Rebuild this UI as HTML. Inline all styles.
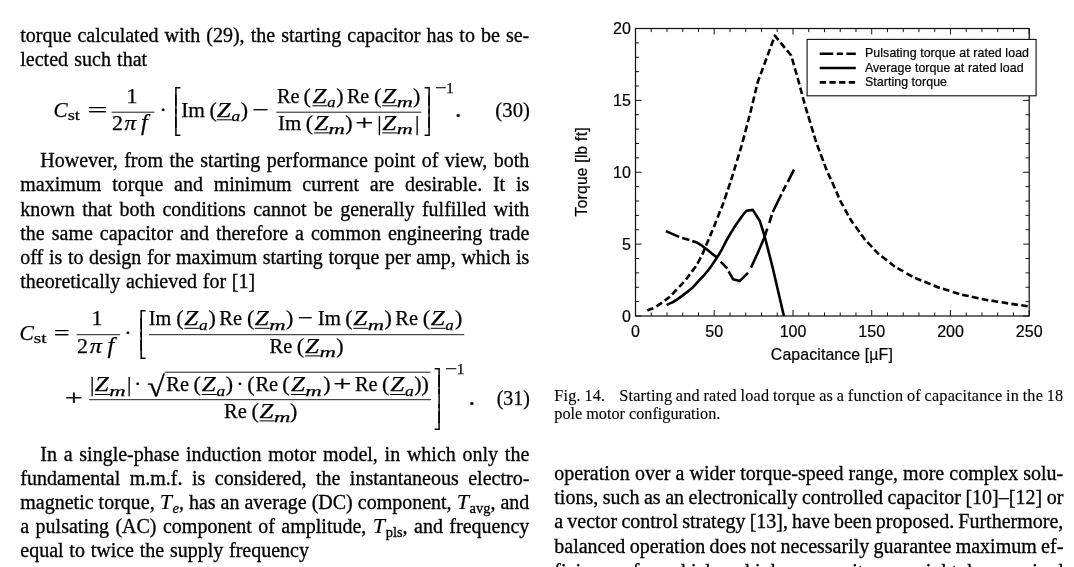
<!DOCTYPE html>
<html><head><meta charset="utf-8"><title>Fig. 14</title>
<style>
html,body{margin:0;padding:0;background:#fff;}
#pg{position:relative;width:1074px;height:567px;overflow:hidden;background:#fff;color:#000;
 font-family:"Liberation Serif",serif;}
.b{-webkit-text-stroke:0.3px #000;}
.c{-webkit-text-stroke:0.12px #000;}
.b{position:absolute;font-size:20.0px;line-height:24px;white-space:nowrap;}
.c{position:absolute;font-size:16.2px;line-height:18px;white-space:nowrap;}
.mi{font-style:italic;font-size:22px;letter-spacing:0.6px;-webkit-text-stroke:0.15px #000;}
.gp{display:inline-block;width:3px;}
.ms{font-size:14.5px;vertical-align:-4px;line-height:0;}
svg{position:absolute;left:0;top:0;}
svg text{font-family:"Liberation Serif",serif;fill:#000;}
svg text.i{font-style:italic;}
svg text.s{font-family:"Liberation Sans",sans-serif;}
svg text.d{font-family:"DejaVu Sans",sans-serif;}
svg text.r,svg text.i{stroke:#000;stroke-width:0.25px;}
svg text.s{stroke:#000;stroke-width:0.2px;}
</style></head><body>
<div id="pg">
<div id="l0" class="b" style="left:20.3px;top:22.95px;word-spacing:1.084px;">torque calculated with (29), the starting capacitor has to be se-</div>
<div id="l1" class="b" style="left:20.3px;top:47.05px;word-spacing:1.197px;">lected such that</div>
<div id="l2" class="b" style="left:40.3px;top:148.05px;word-spacing:1.404px;">However, from the starting performance point of view, both</div>
<div id="l3" class="b" style="left:20.3px;top:172.35px;word-spacing:5.793px;">maximum torque and minimum current are desirable. It is</div>
<div id="l4" class="b" style="left:20.3px;top:196.65px;word-spacing:2.387px;">known that both conditions cannot be generally fulfilled with</div>
<div id="l5" class="b" style="left:20.3px;top:220.85px;word-spacing:1.986px;">the same capacitor and therefore a common engineering trade</div>
<div id="l6" class="b" style="left:20.3px;top:245.15px;word-spacing:0.656px;">off is to design for maximum starting torque per amp, which is</div>
<div id="l7" class="b" style="left:20.3px;top:269.45px;word-spacing:0.715px;">theoretically achieved for [1]</div>
<div id="l8" class="b" style="left:40.3px;top:441.95px;word-spacing:1.750px;">In a single-phase induction motor model, in which only the</div>
<div id="l9" class="b" style="left:20.3px;top:465.95px;word-spacing:4.487px;">fundamental m.m.f. is considered, the instantaneous electro-</div>
<div id="l10" class="b" style="left:20.3px;top:490.05px;word-spacing:-0.005px;">magnetic torque, <span class="mi">T</span><sub class="ms"><i>e</i></sub>, has an average (DC) component, <span class="mi">T</span><sub class="ms">avg</sub>, and</div>
<div id="l11" class="b" style="left:20.3px;top:514.05px;word-spacing:1.447px;">a pulsating (AC) component of amplitude, <span class="mi">T</span><sub class="ms">pls</sub>, and frequency</div>
<div id="l12" class="b" style="left:20.3px;top:538.05px;word-spacing:0.759px;">equal to twice the supply frequency</div>
<div id="l13" class="c" style="left:554.3px;top:386.63px;word-spacing:-0.561px;letter-spacing:0.2px;">Fig. 14.<span class="gp"></span>&nbsp;&nbsp; Starting and rated load torque as a function of capacitance in the 18</div>
<div id="l14" class="c" style="left:554.3px;top:404.53px;word-spacing:0.055px;">pole motor configuration.</div>
<div id="l15" class="b" style="left:554.3px;top:460.75px;word-spacing:0.105px;">operation over a wider torque-speed range, more complex solu-</div>
<div id="l16" class="b" style="left:554.3px;top:485.05px;word-spacing:-0.449px;">tions, such as an electronically controlled capacitor [10]–[12] or</div>
<div id="l17" class="b" style="left:554.3px;top:509.35px;word-spacing:-0.867px;">a vector control strategy [13], have been proposed. Furthermore,</div>
<div id="l18" class="b" style="left:554.3px;top:533.65px;word-spacing:-0.670px;">balanced operation does not necessarily guarantee maximum ef-</div>
<div id="l19" class="b" style="left:554.3px;top:559.05px;word-spacing:5.412px;">ficiency, for which a higher capacitance might be required</div>
<svg width="1074" height="567" viewBox="0 0 1074 567">
<text x="53.43" y="116.7" font-size="22.0" class="i" textLength="14.08" lengthAdjust="spacingAndGlyphs">C</text>
<text x="67.65" y="119.8" font-size="15.5" class="r" textLength="12.15" lengthAdjust="spacingAndGlyphs">st</text>
<text x="87.19" y="116.7" font-size="22.0" class="r" textLength="20.48" lengthAdjust="spacingAndGlyphs">=</text>
<line x1="111.6" y1="112.2" x2="154.4" y2="112.2" stroke="#000" stroke-width="0.9" />
<text x="126.57" y="102.5" font-size="22.0" class="r" >1</text>
<text x="111.93" y="129.8" font-size="22.0" class="r" >2</text>
<text x="124.57" y="129.8" font-size="22.0" class="i" textLength="11.69" lengthAdjust="spacingAndGlyphs">π</text>
<text x="141.03" y="129.8" font-size="24" class="i" >f</text>
<text x="159.54" y="116.7" font-size="22.0" class="r" >·</text>
<text x="173.82" y="101.95" font-size="16.0" class="d">⎡</text>
<text x="173.82" y="131.86" font-size="16.0" class="d">⎣</text>
<text x="173.82" y="109.54" font-size="16.0" class="d">⎢</text>
<text x="173.82" y="124.29" font-size="16.0" class="d">⎢</text>
<text x="181.23" y="116.7" font-size="22.0" class="r" textLength="23.81" lengthAdjust="spacingAndGlyphs">Im</text>
<text x="209.53" y="116.7" font-size="22.0" class="r" >(</text>
<text x="216.89" y="116.7" font-size="22.0" class="i" textLength="13.90" lengthAdjust="spacingAndGlyphs">Z</text>
<line x1="216.79999999999998" y1="119.8" x2="231.79999999999998" y2="119.8" stroke="#000" stroke-width="1.0" />
<text x="231.58" y="121.0" font-size="15.5" class="i" textLength="8.67" lengthAdjust="spacingAndGlyphs">a</text>
<text x="240.79" y="116.7" font-size="22.0" class="r" >)</text>
<text x="252.22" y="116.7" font-size="22.0" class="r" textLength="16.73" lengthAdjust="spacingAndGlyphs">−</text>
<text x="277.01" y="102.7" font-size="22.0" class="r" textLength="22.59" lengthAdjust="spacingAndGlyphs">Re</text>
<text x="303.53" y="102.7" font-size="22.0" class="r" >(</text>
<text x="312.49" y="102.7" font-size="22.0" class="i" textLength="13.90" lengthAdjust="spacingAndGlyphs">Z</text>
<line x1="312.40000000000003" y1="105.8" x2="327.40000000000003" y2="105.8" stroke="#000" stroke-width="1.0" />
<text x="327.2" y="107.0" font-size="15.5" class="i" textLength="8.32" lengthAdjust="spacingAndGlyphs">a</text>
<text x="336.29" y="102.7" font-size="22.0" class="r" >)</text>
<text x="346.92" y="102.7" font-size="22.0" class="r" textLength="22.38" lengthAdjust="spacingAndGlyphs">Re</text>
<text x="374.03" y="102.7" font-size="22.0" class="r" >(</text>
<text x="382.29" y="102.7" font-size="22.0" class="i" textLength="13.90" lengthAdjust="spacingAndGlyphs">Z</text>
<line x1="382.20000000000005" y1="105.8" x2="397.20000000000005" y2="105.8" stroke="#000" stroke-width="1.0" />
<text x="396.7" y="107.0" font-size="15.5" class="i" textLength="16.03" lengthAdjust="spacingAndGlyphs">m</text>
<text x="413.09" y="102.7" font-size="22.0" class="r" >)</text>
<line x1="276.3" y1="112.2" x2="421.4" y2="112.2" stroke="#000" stroke-width="0.9" />
<text x="278.05" y="129.8" font-size="22.0" class="r" textLength="23.18" lengthAdjust="spacingAndGlyphs">Im</text>
<text x="305.63" y="129.8" font-size="22.0" class="r" >(</text>
<text x="314.19" y="129.8" font-size="22.0" class="i" textLength="13.90" lengthAdjust="spacingAndGlyphs">Z</text>
<line x1="314.1" y1="132.9" x2="329.1" y2="132.9" stroke="#000" stroke-width="1.0" />
<text x="328.58" y="134.10000000000002" font-size="15.5" class="i" textLength="16.37" lengthAdjust="spacingAndGlyphs">m</text>
<text x="345.19" y="129.8" font-size="22.0" class="r" >)</text>
<text x="355.19" y="129.8" font-size="22.0" class="r" textLength="18.18" lengthAdjust="spacingAndGlyphs">+</text>
<text x="377.3" y="129.8" font-size="22.0" class="r" >|</text>
<text x="382.29" y="129.8" font-size="22.0" class="i" textLength="13.90" lengthAdjust="spacingAndGlyphs">Z</text>
<line x1="382.20000000000005" y1="132.9" x2="397.20000000000005" y2="132.9" stroke="#000" stroke-width="1.0" />
<text x="396.7" y="134.10000000000002" font-size="15.5" class="i" textLength="16.03" lengthAdjust="spacingAndGlyphs">m</text>
<text x="415.0" y="129.8" font-size="22.0" class="r" >|</text>
<text x="423.18" y="101.95" font-size="16.0" class="d">⎤</text>
<text x="423.18" y="131.86" font-size="16.0" class="d">⎦</text>
<text x="423.18" y="109.54" font-size="16.0" class="d">⎥</text>
<text x="423.18" y="124.29" font-size="16.0" class="d">⎥</text>
<text x="434.98" y="93.1" font-size="15.5" class="r" textLength="11.51" lengthAdjust="spacingAndGlyphs">−</text>
<text x="445.94" y="93.1" font-size="15.5" class="r" >1</text>
<text x="454.93" y="116.7" font-size="26" class="r" textLength="6.35" lengthAdjust="spacingAndGlyphs">.</text>
<text x="495.39" y="116.5" font-size="20.2" class="r" textLength="34.52" lengthAdjust="spacingAndGlyphs">(30)</text>
<text x="19.41" y="339.7" font-size="22.0" class="i" textLength="14.29" lengthAdjust="spacingAndGlyphs">C</text>
<text x="33.81" y="342.8" font-size="15.5" class="r" textLength="12.80" lengthAdjust="spacingAndGlyphs">st</text>
<text x="53.8" y="339.7" font-size="22.0" class="r" textLength="15.88" lengthAdjust="spacingAndGlyphs">=</text>
<line x1="76.6" y1="334.7" x2="120.1" y2="334.7" stroke="#000" stroke-width="0.9" />
<text x="91.57" y="325.2" font-size="22.0" class="r" >1</text>
<text x="76.93" y="352.8" font-size="22.0" class="r" >2</text>
<text x="89.77" y="352.8" font-size="22.0" class="i" textLength="12.17" lengthAdjust="spacingAndGlyphs">π</text>
<text x="107.43" y="352.8" font-size="24" class="i" >f</text>
<text x="124.34" y="339.7" font-size="22.0" class="r" >·</text>
<text x="139.03" y="324.95" font-size="16.0" class="d">⎡</text>
<text x="139.03" y="354.76" font-size="16.0" class="d">⎣</text>
<text x="139.03" y="332.52" font-size="16.0" class="d">⎢</text>
<text x="139.03" y="347.22" font-size="16.0" class="d">⎢</text>
<text x="148.77" y="325.2" font-size="22.0" class="r" textLength="22.45" lengthAdjust="spacingAndGlyphs">Im</text>
<text x="176.23" y="325.2" font-size="22.0" class="r" >(</text>
<text x="184.39" y="325.2" font-size="22.0" class="i" textLength="13.90" lengthAdjust="spacingAndGlyphs">Z</text>
<line x1="184.29999999999998" y1="328.3" x2="199.29999999999998" y2="328.3" stroke="#000" stroke-width="1.0" />
<text x="199.08" y="329.5" font-size="15.5" class="i" textLength="8.67" lengthAdjust="spacingAndGlyphs">a</text>
<text x="208.49" y="325.2" font-size="22.0" class="r" >)</text>
<text x="219.31" y="325.2" font-size="22.0" class="r" textLength="22.70" lengthAdjust="spacingAndGlyphs">Re</text>
<text x="247.03" y="325.2" font-size="22.0" class="r" >(</text>
<text x="254.79" y="325.2" font-size="22.0" class="i" textLength="13.90" lengthAdjust="spacingAndGlyphs">Z</text>
<line x1="254.7" y1="328.3" x2="269.7" y2="328.3" stroke="#000" stroke-width="1.0" />
<text x="269.18" y="329.5" font-size="15.5" class="i" textLength="16.37" lengthAdjust="spacingAndGlyphs">m</text>
<text x="285.89" y="325.2" font-size="22.0" class="r" >)</text>
<text x="297.75" y="325.2" font-size="22.0" class="r" textLength="15.27" lengthAdjust="spacingAndGlyphs">−</text>
<text x="317.75" y="325.2" font-size="22.0" class="r" textLength="23.18" lengthAdjust="spacingAndGlyphs">Im</text>
<text x="345.33" y="325.2" font-size="22.0" class="r" >(</text>
<text x="353.39" y="325.2" font-size="22.0" class="i" textLength="13.90" lengthAdjust="spacingAndGlyphs">Z</text>
<line x1="353.3" y1="328.3" x2="368.3" y2="328.3" stroke="#000" stroke-width="1.0" />
<text x="367.79" y="329.5" font-size="15.5" class="i" textLength="16.26" lengthAdjust="spacingAndGlyphs">m</text>
<text x="384.49" y="325.2" font-size="22.0" class="r" >)</text>
<text x="395.31" y="325.2" font-size="22.0" class="r" textLength="22.70" lengthAdjust="spacingAndGlyphs">Re</text>
<text x="422.63" y="325.2" font-size="22.0" class="r" >(</text>
<text x="430.79" y="325.2" font-size="22.0" class="i" textLength="13.90" lengthAdjust="spacingAndGlyphs">Z</text>
<line x1="430.70000000000005" y1="328.3" x2="445.70000000000005" y2="328.3" stroke="#000" stroke-width="1.0" />
<text x="445.52" y="329.5" font-size="15.5" class="i" textLength="8.09" lengthAdjust="spacingAndGlyphs">a</text>
<text x="454.89" y="325.2" font-size="22.0" class="r" >)</text>
<line x1="149.0" y1="334.7" x2="464.3" y2="334.7" stroke="#000" stroke-width="0.9" />
<text x="269.61" y="352.8" font-size="22.0" class="r" textLength="22.70" lengthAdjust="spacingAndGlyphs">Re</text>
<text x="296.83" y="352.8" font-size="22.0" class="r" >(</text>
<text x="305.09" y="352.8" font-size="22.0" class="i" textLength="13.90" lengthAdjust="spacingAndGlyphs">Z</text>
<line x1="305.0" y1="355.90000000000003" x2="320.0" y2="355.90000000000003" stroke="#000" stroke-width="1.0" />
<text x="319.48" y="357.1" font-size="15.5" class="i" textLength="16.37" lengthAdjust="spacingAndGlyphs">m</text>
<text x="336.19" y="352.8" font-size="22.0" class="r" >)</text>
<text x="64.68" y="404.7" font-size="22.0" class="r" textLength="18.30" lengthAdjust="spacingAndGlyphs">+</text>
<line x1="89" y1="399.7" x2="430.9" y2="399.7" stroke="#000" stroke-width="0.9" />
<text x="90.1" y="391.4" font-size="22.0" class="r" >|</text>
<text x="94.89" y="391.4" font-size="22.0" class="i" textLength="13.90" lengthAdjust="spacingAndGlyphs">Z</text>
<line x1="94.8" y1="394.5" x2="109.8" y2="394.5" stroke="#000" stroke-width="1.0" />
<text x="109.28" y="395.7" font-size="15.5" class="i" textLength="16.37" lengthAdjust="spacingAndGlyphs">m</text>
<text x="127.1" y="391.4" font-size="22.0" class="r" >|</text>
<text x="133.94" y="391.4" font-size="22.0" class="r" >·</text>
<text transform="translate(147.2,395.9) scale(1.45,1.30)" font-size="22.0" class="r">√</text>
<line x1="164.9" y1="372.2" x2="430.4" y2="372.2" stroke="#000" stroke-width="0.9" />
<text x="166.31" y="391.4" font-size="22.0" class="r" textLength="22.70" lengthAdjust="spacingAndGlyphs">Re</text>
<text x="193.53" y="391.4" font-size="22.0" class="r" >(</text>
<text x="201.79" y="391.4" font-size="22.0" class="i" textLength="13.90" lengthAdjust="spacingAndGlyphs">Z</text>
<line x1="201.7" y1="394.5" x2="216.7" y2="394.5" stroke="#000" stroke-width="1.0" />
<text x="216.48" y="395.7" font-size="15.5" class="i" textLength="8.67" lengthAdjust="spacingAndGlyphs">a</text>
<text x="225.79" y="391.4" font-size="22.0" class="r" >)</text>
<text x="236.24" y="391.4" font-size="22.0" class="r" >·</text>
<text x="247.23" y="391.4" font-size="22.0" class="r" >(</text>
<text x="255.51" y="391.4" font-size="22.0" class="r" textLength="22.70" lengthAdjust="spacingAndGlyphs">Re</text>
<text x="282.33" y="391.4" font-size="22.0" class="r" >(</text>
<text x="290.99" y="391.4" font-size="22.0" class="i" textLength="13.90" lengthAdjust="spacingAndGlyphs">Z</text>
<line x1="290.90000000000003" y1="394.5" x2="305.90000000000003" y2="394.5" stroke="#000" stroke-width="1.0" />
<text x="305.38" y="395.7" font-size="15.5" class="i" textLength="16.48" lengthAdjust="spacingAndGlyphs">m</text>
<text x="323.29" y="391.4" font-size="22.0" class="r" >)</text>
<text x="333.29" y="391.4" font-size="22.0" class="r" textLength="18.18" lengthAdjust="spacingAndGlyphs">+</text>
<text x="354.91" y="391.4" font-size="22.0" class="r" textLength="22.59" lengthAdjust="spacingAndGlyphs">Re</text>
<text x="382.03" y="391.4" font-size="22.0" class="r" >(</text>
<text x="390.39" y="391.4" font-size="22.0" class="i" textLength="13.90" lengthAdjust="spacingAndGlyphs">Z</text>
<line x1="390.3" y1="394.5" x2="405.3" y2="394.5" stroke="#000" stroke-width="1.0" />
<text x="405.08" y="395.7" font-size="15.5" class="i" textLength="8.78" lengthAdjust="spacingAndGlyphs">a</text>
<text x="414.29" y="391.4" font-size="22.0" class="r" >)</text>
<text x="421.49" y="391.4" font-size="22.0" class="r" >)</text>
<text x="224.11" y="417.8" font-size="22.0" class="r" textLength="22.70" lengthAdjust="spacingAndGlyphs">Re</text>
<text x="251.53" y="417.8" font-size="22.0" class="r" >(</text>
<text x="259.59" y="417.8" font-size="22.0" class="i" textLength="13.90" lengthAdjust="spacingAndGlyphs">Z</text>
<line x1="259.5" y1="420.90000000000003" x2="274.5" y2="420.90000000000003" stroke="#000" stroke-width="1.0" />
<text x="273.98" y="422.1" font-size="15.5" class="i" textLength="16.37" lengthAdjust="spacingAndGlyphs">m</text>
<text x="289.89" y="417.8" font-size="22.0" class="r" >)</text>
<text x="433.18" y="383.05" font-size="16.0" class="d">⎤</text>
<text x="433.18" y="425.86" font-size="16.0" class="d">⎦</text>
<text x="433.18" y="390.34" font-size="16.0" class="d">⎥</text>
<text x="433.18" y="404.47" font-size="16.0" class="d">⎥</text>
<text x="433.18" y="418.60" font-size="16.0" class="d">⎥</text>
<text x="444.93" y="373.8" font-size="15.5" class="r" textLength="12.12" lengthAdjust="spacingAndGlyphs">−</text>
<text x="456.64" y="373.8" font-size="15.5" class="r" >1</text>
<text x="468.61" y="405.0" font-size="26" class="r" textLength="6.77" lengthAdjust="spacingAndGlyphs">.</text>
<text x="496.63" y="405.2" font-size="20.2" class="r" textLength="33.15" lengthAdjust="spacingAndGlyphs">(31)</text>
<rect x="635.5" y="28.5" width="393.7" height="287.5" fill="none" stroke="#151515" stroke-width="1.25"/>
<path d="M635.50 316.0v-6.0M635.50 28.5v6.0M651.25 316.0v-3.6M651.25 28.5v3.6M667.00 316.0v-3.6M667.00 28.5v3.6M682.74 316.0v-3.6M682.74 28.5v3.6M698.49 316.0v-3.6M698.49 28.5v3.6M714.24 316.0v-6.0M714.24 28.5v6.0M729.99 316.0v-3.6M729.99 28.5v3.6M745.74 316.0v-3.6M745.74 28.5v3.6M761.48 316.0v-3.6M761.48 28.5v3.6M777.23 316.0v-3.6M777.23 28.5v3.6M792.98 316.0v-6.0M792.98 28.5v6.0M808.73 316.0v-3.6M808.73 28.5v3.6M824.48 316.0v-3.6M824.48 28.5v3.6M840.22 316.0v-3.6M840.22 28.5v3.6M855.97 316.0v-3.6M855.97 28.5v3.6M871.72 316.0v-6.0M871.72 28.5v6.0M887.47 316.0v-3.6M887.47 28.5v3.6M903.22 316.0v-3.6M903.22 28.5v3.6M918.96 316.0v-3.6M918.96 28.5v3.6M934.71 316.0v-3.6M934.71 28.5v3.6M950.46 316.0v-6.0M950.46 28.5v6.0M966.21 316.0v-3.6M966.21 28.5v3.6M981.96 316.0v-3.6M981.96 28.5v3.6M997.70 316.0v-3.6M997.70 28.5v3.6M1013.45 316.0v-3.6M1013.45 28.5v3.6M1029.20 316.0v-6.0M1029.20 28.5v6.0M635.5 316.00h6.0M1029.2 316.00h-6.0M635.5 301.62h3.6M1029.2 301.62h-3.6M635.5 287.25h3.6M1029.2 287.25h-3.6M635.5 272.88h3.6M1029.2 272.88h-3.6M635.5 258.50h3.6M1029.2 258.50h-3.6M635.5 244.12h6.0M1029.2 244.12h-6.0M635.5 229.75h3.6M1029.2 229.75h-3.6M635.5 215.38h3.6M1029.2 215.38h-3.6M635.5 201.00h3.6M1029.2 201.00h-3.6M635.5 186.62h3.6M1029.2 186.62h-3.6M635.5 172.25h6.0M1029.2 172.25h-6.0M635.5 157.88h3.6M1029.2 157.88h-3.6M635.5 143.50h3.6M1029.2 143.50h-3.6M635.5 129.12h3.6M1029.2 129.12h-3.6M635.5 114.75h3.6M1029.2 114.75h-3.6M635.5 100.38h6.0M1029.2 100.38h-6.0M635.5 86.00h3.6M1029.2 86.00h-3.6M635.5 71.62h3.6M1029.2 71.62h-3.6M635.5 57.25h3.6M1029.2 57.25h-3.6M635.5 42.88h3.6M1029.2 42.88h-3.6M635.5 28.50h6.0M1029.2 28.50h-6.0" stroke="#151515" stroke-width="1.0" fill="none"/>
<text x="635.5" y="336.6" font-size="16.0" class="s" text-anchor="middle">0</text>
<text x="714.2" y="336.6" font-size="16.0" class="s" text-anchor="middle">50</text>
<text x="793.0" y="336.6" font-size="16.0" class="s" text-anchor="middle">100</text>
<text x="871.7" y="336.6" font-size="16.0" class="s" text-anchor="middle">150</text>
<text x="950.5" y="336.6" font-size="16.0" class="s" text-anchor="middle">200</text>
<text x="1029.2" y="336.6" font-size="16.0" class="s" text-anchor="middle">250</text>
<text x="630.9" y="321.7" font-size="16.0" class="s" text-anchor="end">0</text>
<text x="630.9" y="249.8" font-size="16.0" class="s" text-anchor="end">5</text>
<text x="630.9" y="177.9" font-size="16.0" class="s" text-anchor="end">10</text>
<text x="630.9" y="106.1" font-size="16.0" class="s" text-anchor="end">15</text>
<text x="630.9" y="34.2" font-size="16.0" class="s" text-anchor="end">20</text>
<text x="831.8" y="360.3" font-size="15.9" class="s" text-anchor="middle" textLength="122" lengthAdjust="spacing">Capacitance [µF]</text>
<text transform="translate(587.2,171.9) rotate(-90)" font-size="15.6" class="s" text-anchor="middle" textLength="89" lengthAdjust="spacing">Torque [lb ft]</text>
<path d="M666.7 305.1C671.9 301.9 671.3 304.1 682.4 295.6C693.5 287.1 688.7 291.7 699.9 279.6C711.1 267.5 706.2 273.7 715.9 259.2C725.6 244.7 720.8 249.7 729.0 236.0C737.2 222.3 734.7 226.6 740.6 218.2C746.5 209.8 744.6 213.3 746.6 210.8L752.8 209.9L759.7 220.7L764.6 236.0L772.7 267.7L783.9 316.0" fill="none" stroke="#000" stroke-width="2.6" stroke-linejoin="round" stroke-linecap="butt"/>
<path d="M665.9 231.1L679.1 236.9M682.2 238.1L689.4 240.1M692.3 241.0L697.0 242.6L702.0 245.7L705.7 248.6L711.9 253.6L717.0 257.4M720.7 261.7L727.4 268.6M728.6 271.4L733.0 279.2L739.9 280.9L748.0 272.8M751.0 267.6L757.5 253.5L764.2 237.9L767.2 228.7M769.3 223.0L771.8 215.0M772.8 212.0L781.4 194.3M782.7 191.5L786.0 185.2M787.8 181.8L794.0 169.6" fill="none" stroke="#000" stroke-width="2.6" stroke-linejoin="round" stroke-linecap="butt"/>
<path d="M647.3 310.5C652.2 307.9 651.8 310.1 662.0 302.6C672.2 295.1 667.8 298.8 678.0 288.1C688.2 277.4 685.3 280.3 692.6 270.6C699.9 260.9 695.1 268.2 699.9 259.0C704.7 249.8 701.3 256.6 707.1 243.0C712.9 229.4 711.0 234.2 717.3 218.2C723.6 202.2 719.8 213.3 726.1 194.9C732.4 176.5 729.7 184.6 736.3 162.9C742.9 141.2 738.6 156.9 745.8 129.9C753.0 102.9 753.8 97.9 757.8 81.9L774.9 35.7L791.2 55.5L798.2 80.0C802.1 94.0 802.1 96.0 810.0 121.9C817.9 147.8 814.3 137.1 822.0 157.8C829.7 178.5 825.3 166.8 833.0 184.0C840.7 201.2 836.5 193.9 845.0 209.4C853.5 224.9 849.4 217.9 858.4 230.4C867.4 242.9 862.4 236.9 871.9 246.9C881.4 256.9 875.9 251.9 886.9 260.4C897.9 268.9 891.9 265.1 904.9 272.4C917.9 279.7 910.9 276.1 925.9 282.3C940.9 288.5 933.8 286.0 949.8 291.0C965.8 296.0 957.8 293.6 973.8 297.2C989.8 300.8 979.3 298.6 997.8 301.7C1016.3 304.8 1018.7 304.9 1029.2 306.5" fill="none" stroke="#000" stroke-width="2.6" stroke-linejoin="round" stroke-linecap="butt" stroke-dasharray="6.7 3.3"/>
<rect x="807.1" y="39.4" width="229.0" height="56.4" fill="#fff" stroke="#151515" stroke-width="1.15"/>
<path d="M819.7 53.7H855.8" stroke="#000" stroke-width="2.6" stroke-dasharray="13.6 3.4 6.3 3.4" fill="none"/>
<path d="M819.7 68.0H855.8" stroke="#000" stroke-width="2.6" fill="none"/>
<path d="M819.7 82.4H855.8" stroke="#000" stroke-width="2.6" stroke-dasharray="6.3 3.4" fill="none"/>
<text x="865.0" y="57.3" font-size="12.4" class="s" textLength="164" lengthAdjust="spacing">Pulsating torque at rated load</text>
<text x="865.0" y="71.5" font-size="12.4" class="s" textLength="158.6" lengthAdjust="spacing">Average torque at rated load</text>
<text x="865.0" y="85.8" font-size="12.4" class="s" textLength="82" lengthAdjust="spacing">Starting torque</text>
</svg>
</div>
</body></html>
